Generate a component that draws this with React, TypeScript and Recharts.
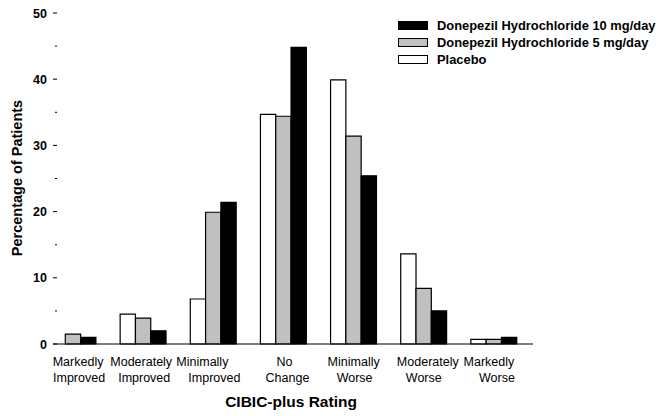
import React from 'react'
import { BarChart, Bar, XAxis, YAxis } from 'recharts'

const categories = [
  ['Markedly', 'Improved'],
  ['Moderately', 'Improved'],
  ['Minimally', 'Improved'],
  ['No', 'Change'],
  ['Minimally', 'Worse'],
  ['Moderately', 'Worse'],
  ['Markedly', 'Worse'],
]
const placebo = [0, 4.5, 6.8, 34.7, 39.9, 13.6, 0.7]
const dose5 = [1.5, 3.9, 19.9, 34.4, 31.4, 8.4, 0.7]
const dose10 = [1.0, 2.0, 21.4, 44.8, 25.4, 5.0, 1.0]
const yTicks = [0, 5, 10, 15, 20, 25, 30, 35, 40, 45, 50]

const legendItems = [
  { label: 'Donepezil Hydrochloride 10 mg/day', fill: '#000000' },
  { label: 'Donepezil Hydrochloride 5 mg/day', fill: '#c0c0c0' },
  { label: 'Placebo', fill: '#ffffff' },
]

const data = categories.map((c, i) => ({
  name: c.join(' '),
  placebo: placebo[i],
  dose5: dose5[i],
  dose10: dose10[i],
}))

const FONT = 'Arial, "Liberation Sans", Helvetica, sans-serif'

// the source labels aren't centred exactly, small per-line nudges
const nudge1 = [5, -2, -11, 1, 0, 4, -5]
const nudge2 = [6, 1, 1, 4, 1, 0, 3]

const XTick = (props: any) => {
  const { x, y, index } = props
  const lines = categories[index]
  return (
    <g>
      <text x={x + nudge1[index]} y={y + 22} textAnchor="middle" fontSize={12.5} fontFamily={FONT} fill="#000">
        {lines[0]}
      </text>
      <text x={x + nudge2[index]} y={y + 38} textAnchor="middle" fontSize={12.5} fontFamily={FONT} fill="#000">
        {lines[1]}
      </text>
    </g>
  )
}

const YTick = (props: any) => {
  const { x, y, payload } = props
  const major = payload.value % 10 === 0
  return (
    <g>
      <line x1={major ? x : x + 2} x2={x + 4} y1={y} y2={y} stroke="#000" strokeWidth={1} />
      {major && (
        <text x={x - 6} y={y + 4.5} textAnchor="end" fontSize={12.5} fontWeight="bold" fontFamily={FONT} fill="#000">
          {payload.value}
        </text>
      )}
    </g>
  )
}

const LegendBox = () => (
  <div
    style={{
      position: 'absolute',
      left: 398,
      top: 17,
      fontFamily: FONT,
      fontSize: 12.9,
      fontWeight: 'bold',
      color: '#000',
    }}
  >
    {legendItems.map((it) => (
      <div key={it.label} style={{ display: 'flex', alignItems: 'center', height: 17 }}>
        <div
          style={{
            width: 28,
            height: 7,
            background: it.fill,
            border: '1px solid #000',
            marginRight: 9,
          }}
        />
        <span>{it.label}</span>
      </div>
    ))}
  </div>
)

export default function App() {
  return (
    <div style={{ position: 'absolute', left: 0, top: 0, width: 664, height: 416, background: '#fff' }}>
      <BarChart
        width={664}
        height={416}
        data={data}
        margin={{ top: 13, right: 131, left: 0, bottom: 0 }}
        barGap={0}
        barSize={15.3}
      >
        <XAxis
          dataKey="name"
          height={72}
          padding={{ left: -15, right: 4 }}
          tickLine={false}
          tickSize={0}
          tickMargin={0}
          interval={0}
          axisLine={{ stroke: '#000', strokeWidth: 1.2 }}
          tick={<XTick />}
        />
        <YAxis
          width={53}
          domain={[0, 50]}
          ticks={yTicks}
          interval={0}
          axisLine={false}
          tickLine={false}
          tickSize={0}
          tickMargin={0}
          tick={<YTick />}
        />
        <Bar dataKey="placebo" fill="#ffffff" stroke="#000" strokeWidth={1.2} isAnimationActive={false} />
        <Bar dataKey="dose5" fill="#c0c0c0" stroke="#000" strokeWidth={1.2} isAnimationActive={false} />
        <Bar dataKey="dose10" fill="#000000" stroke="#000" strokeWidth={1.2} isAnimationActive={false} />
        <text x={291} y={407} textAnchor="middle" fontSize={15.5} fontWeight="bold" fontFamily={FONT} fill="#000">
          CIBIC-plus Rating
        </text>
        <text
          x={22}
          y={178}
          transform="rotate(-90 22 178)"
          textAnchor="middle"
          fontSize={14.5}
          fontWeight="bold"
          fontFamily={FONT}
          fill="#000"
        >
          Percentage of Patients
        </text>
      </BarChart>
      <LegendBox />
    </div>
  )
}
